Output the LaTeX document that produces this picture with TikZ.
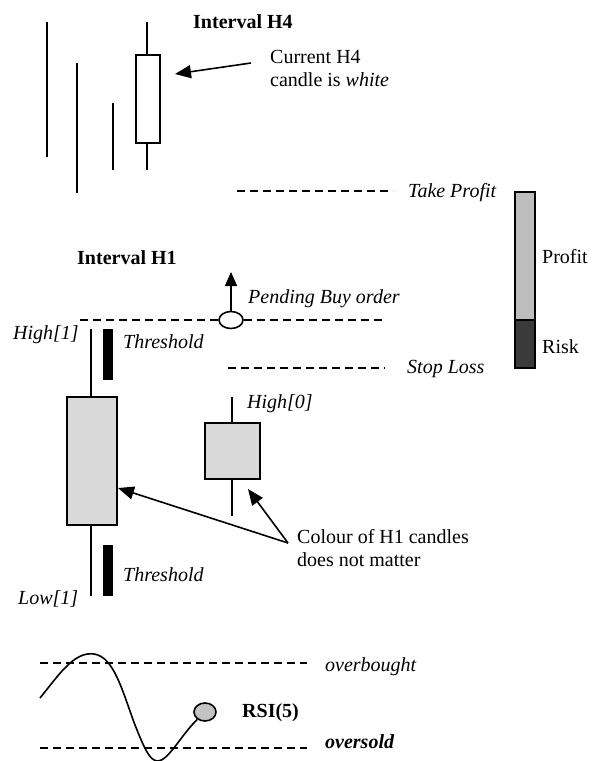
\documentclass[tikz,border=0pt]{standalone}
\usepackage{fontspec}
\setmainfont{Liberation Serif}
\usetikzlibrary{arrows.meta,shapes.geometric}
\definecolor{candlegray}{HTML}{D9D9D9}
\definecolor{profitgray}{HTML}{BDBDBD}
\definecolor{riskgray}{HTML}{3A3A3A}
\definecolor{rsigray}{HTML}{C4C4C4}
\begin{document}
\begin{tikzpicture}[x=1pt,y=-1pt,
  txt/.style={anchor=base west,inner sep=0,font=\fontsize{20}{24}\selectfont},
  wick/.style={line width=1.6pt},
  dashln/.style={line width=1.3pt,dash pattern=on 8pt off 5pt},
  arr/.style={line width=1.6pt,-{Triangle[length=16pt,width=13pt]}},
  candle/.style={draw,line width=1.6pt,inner sep=0,fill=candlegray},
  thr/.style={fill=black,inner sep=0,minimum width=10pt,minimum height=51pt}
]
\useasboundingbox (0,0) rectangle (603,761);

% ---------- Interval H4 ----------
\node[txt,font=\fontsize{20}{24}\selectfont\bfseries] (ih4) at (193,28) {Interval H4};
\coordinate (l1a) at (47,22);  \coordinate (l1b) at (47,157);
\coordinate (l2a) at (77,63);  \coordinate (l2b) at (77,193);
\coordinate (l3a) at (113,103);\coordinate (l3b) at (113,170);
\draw[wick] (l1a) -- (l1b);
\draw[wick] (l2a) -- (l2b);
\draw[wick] (l3a) -- (l3b);
\coordinate (w4a) at (147,22); \coordinate (w4b) at (147,170);
\draw[wick] (w4a) -- (w4b);
\node[draw,line width=1.6pt,fill=white,inner sep=0,minimum width=24pt,minimum height=88pt] (h4c) at (148,99) {};
\node[txt] (cur1) at (270,63) {Current H4};
\node[txt] (cur2) at (270,86) {candle is \textit{white}};
\coordinate (a1s) at (251,63);
\coordinate (a1e) at (175,74);
\draw[arr] (a1s) -- (a1e);

% ---------- Levels ----------
\coordinate (tp1) at (237,191); \coordinate (tp2) at (393,191);
\draw[dashln] (tp1) -- (tp2);
\node[txt] (tp) at (408,197) {\textit{Take Profit}};

\coordinate (sl1) at (228,368); \coordinate (sl2) at (385,368);
\draw[dashln] (sl1) -- (sl2);
\node[txt] (sl) at (407,373) {\textit{Stop Loss}};

\node[draw,line width=1.6pt,fill=white,ellipse,inner sep=0,minimum width=24pt,minimum height=17pt] (pend) at (231,320) {};
\coordinate (pd1) at (80,320); \coordinate (pd2) at (386,320);
\draw[dashln] (pd1) -- (pend.west);
\draw[dashln] (pend.east) -- (pd2);
\coordinate (ptip) at (231,272);
\draw[line width=1.6pt,-{Triangle[length=14pt,width=12pt]}] (pend.north) -- (ptip);
\node[txt] (pbo) at (248,303) {\textit{Pending Buy order}};

% Profit / Risk bar
\node[draw,line width=1.6pt,fill=profitgray,inner sep=0,minimum width=20pt,minimum height=128pt] (pbar) at (525,256) {};
\node[draw,line width=1.6pt,fill=riskgray,inner sep=0,minimum width=20pt,minimum height=48pt] (rbar) at (525,344) {};
\node[txt] (profit) at (542,263) {Profit};
\node[txt] (risk) at (542,353) {Risk};

% ---------- Interval H1 ----------
\node[txt,font=\fontsize{20}{24}\selectfont\bfseries] (ih1) at (77,264) {Interval H1};
\coordinate (w1a) at (91,329); \coordinate (w1b) at (91,596);
\draw[wick] (w1a) -- (w1b);
\node[candle,minimum width=50pt,minimum height=128pt] (c1) at (92,461) {};
\node[thr] (thr1) at (108,354.5) {};
\node[thr] (thr2) at (108,570.5) {};
\node[txt] (hi1) at (13,339) {\textit{High[1]}};
\node[txt] (lo1) at (18,604) {\textit{Low[1]}};
\node[txt] (th1) at (123,348) {\textit{Threshold}};
\node[txt] (th2) at (123,581) {\textit{Threshold}};

\coordinate (w0a) at (232,397); \coordinate (w0b) at (232,516);
\draw[wick] (w0a) -- (w0b);
\node[candle,minimum width=55pt,minimum height=56pt] (c0) at (232.5,451) {};
\node[txt] (hi0) at (247,408) {\textit{High[0]}};

\node[txt] (col1) at (297,543) {Colour of H1 candles};
\node[txt] (col2) at (297,566) {does not matter};
\coordinate (cs) at (288,543);
\coordinate (ce1) at (118,488);
\coordinate (ce0) at (248,489);
\draw[arr] (cs) -- (ce1);
\draw[arr] (cs) -- (ce0);

% ---------- RSI ----------
\coordinate (ob1) at (40,663); \coordinate (ob2) at (307,663);
\coordinate (os1) at (40,748); \coordinate (os2) at (307,748);
\draw[dashln] (ob1) -- (ob2);
\draw[dashln] (os1) -- (os2);
\node[txt] (ob) at (325,671) {\textit{overbought}};
\node[txt] (os) at (325,748) {\textbf{\textit{oversold}}};
\node[draw,line width=1.6pt,fill=rsigray,ellipse,inner sep=0,minimum width=22pt,minimum height=18pt] (rsi) at (205,712) {};
\node[txt,font=\fontsize{20}{24}\selectfont\bfseries] (rsil) at (242,717) {RSI(5)};
\coordinate (r0) at (40,698);
\coordinate (r1) at (94,654);
\coordinate (r2) at (135,725);
\coordinate (r3) at (158,761);
\draw[line width=1.6pt] (r0) .. controls (58,676) and (74,651) .. (r1)
  .. controls (114,657) and (122,690) .. (r2)
  .. controls (145,750) and (150,761) .. (r3)
  .. controls (168,761) and (182,734) .. (rsi);
\end{tikzpicture}
\end{document}
